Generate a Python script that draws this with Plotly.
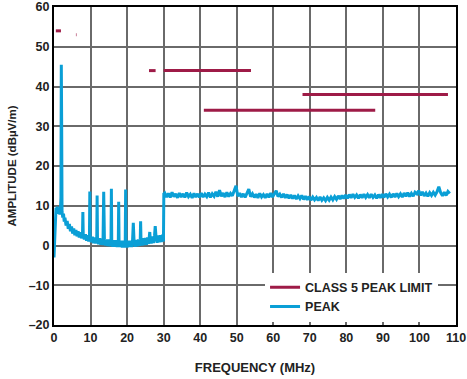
import plotly.graph_objects as go

# CLASS 5 PEAK LIMIT segments (MHz start, MHz end, dBuV/m level)
limit_start = [0.5, 6.0, 26.0, 30.0, 41.0, 68.0]
limit_end = [1.9, 6.15, 27.8, 53.9, 87.9, 107.8]
limit_level = [54.0, 53.0, 44.0, 44.0, 34.0, 38.0]

# PEAK trace, low band (0-30 MHz)
peak_freq_low = [0.0, 0.1, 0.25, 0.4, 0.55, 0.7, 0.85, 1.0, 1.15, 1.3, 1.45, 1.6, 1.75, 1.9, 2.0, 2.1, 2.2,
                 2.4, 2.6, 2.8, 3.0, 3.3, 3.6, 3.9, 4.2, 4.5, 4.8, 5.1, 5.4, 5.7, 6.0, 6.3, 6.6, 6.9, 7.2,
                 7.5, 7.8, 7.9, 8.0, 8.3, 8.6, 8.9, 9.2, 9.5, 9.7, 9.8, 9.9, 10.2, 10.5, 10.8, 11.1, 11.4,
                 11.7, 11.8, 11.9, 12.2, 12.5, 12.8, 13.1, 13.4, 13.6, 13.8, 14.1, 14.4, 14.7, 15.0, 15.3,
                 15.6, 15.7, 15.8, 16.1, 16.4, 16.7, 17.0, 17.3, 17.6, 17.7, 17.8, 18.1, 18.4, 18.7, 19.0,
                 19.3, 19.5, 19.6, 19.7, 20.0, 20.3, 20.6, 20.9, 21.2, 21.5, 21.7, 21.9, 22.2, 22.5, 22.8,
                 23.1, 23.4, 23.6, 23.7, 23.8, 24.1, 24.4, 24.7, 25.0, 25.3, 25.6, 25.9, 26.1, 26.2, 26.3,
                 26.6, 26.9, 27.2, 27.5, 27.7, 27.9, 28.2, 28.5, 28.8, 29.1, 29.4, 29.7, 29.95, 30.05]
peak_amp_low = [-3.0, -1.0, 4.0, 8.0, 9.5, 8.2, 9.8, 8.5, 9.6, 8.0, 9.0, 7.8, 8.8, 12.0, 45.5, 30.0, 8.5,
                7.0, 8.0, 6.0, 7.0, 5.0, 6.2, 4.2, 5.4, 3.6, 4.8, 3.0, 4.3, 2.6, 3.9, 2.3, 3.6, 2.0, 3.3,
                1.8, 3.0, 8.4, 2.8, 1.5, 2.8, 1.2, 2.6, 1.0, 2.4, 13.6, 2.2, 0.8, 2.2, 0.6, 2.0, 0.5,
                1.9, 12.6, 1.8, 0.3, 1.8, 0.2, 1.7, 0.1, 13.5, 1.6, 0.0, 1.5, -0.1, 1.5, -0.2,
                1.4, 14.3, 1.4, -0.3, 1.3, -0.3, 1.3, -0.4, 1.2, 11.0, 1.2, -0.4, 1.2, -0.5, 1.2,
                -0.5, 1.1, 14.1, 1.1, -0.5, 1.2, -0.4, 1.2, -0.4, 1.3, 5.7, 1.3, -0.3, 1.4, -0.2,
                1.5, -0.1, 1.6, 6.1, 1.6, 0.0, 1.8, 0.1, 1.9, 0.2, 2.0, 0.4, 2.1, 3.4, 2.1,
                0.5, 2.3, 0.6, 2.4, 4.9, 2.4, 0.7, 2.5, 0.8, 2.6, 0.9, 2.7, 1.0, 13.0]

# PEAK trace, high band: samples every 0.5 MHz starting at 30.3 MHz
peak_high_start = 30.3
peak_high_step = 0.5
peak_amp_high = [
    13.2, 12.2, 13.1, 12.1, 13.4, 12.3, 13.0, 12.0, 13.2, 12.2,
    13.0, 12.1, 13.3, 12.3, 12.9, 12.0, 13.1, 12.2, 13.0, 12.1,
    13.2, 12.2, 12.9, 12.3, 13.3, 12.1, 13.0, 12.4, 13.5, 12.3,
    13.9, 12.4, 13.2, 12.2, 13.4, 12.3, 13.1, 12.5, 13.6, 15.0,
    12.4, 13.2, 12.2, 13.0, 12.1, 13.3, 14.2, 12.3, 13.0, 12.1,
    12.9, 12.0, 13.1, 12.2, 12.8, 12.0, 13.0, 12.1, 13.2, 12.2,
    13.1, 13.8, 12.3, 12.9, 12.1, 13.0, 12.0, 12.8, 11.9, 12.7,
    11.8, 12.6, 11.7, 12.5, 11.8, 12.6, 11.6, 12.4, 11.5, 12.3,
    11.4, 12.2, 11.5, 12.1, 11.3, 12.2, 11.4, 12.0, 11.3, 12.1,
    11.4, 12.2, 11.5, 12.3, 11.6, 12.5, 11.7, 12.6, 11.8, 12.7,
    11.9, 12.8, 12.0, 12.9, 12.1, 12.7, 11.9, 12.8, 12.0, 12.9,
    12.1, 12.8, 12.0, 12.9, 12.1, 12.7, 11.9, 12.8, 12.0, 12.9,
    12.1, 13.0, 12.2, 12.9, 12.1, 13.0, 12.2, 13.1, 12.3, 13.0,
    12.2, 13.2, 12.4, 13.3, 12.3, 13.1, 12.4, 13.4, 13.0, 13.8,
    12.6, 13.5, 12.5, 13.2, 12.4, 13.3, 12.6, 13.4, 12.7, 13.5,
    14.8, 13.3, 12.5, 13.4, 12.6, 13.6, 13.1]

x_ticks = [0, 10, 20, 30, 40, 50, 60, 70, 80, 90, 100, 110]
y_ticks = [-20, -10, 0, 10, 20, 30, 40, 50, 60]
y_ticktext = ["–20", "–10", "0", "10", "20", "30", "40", "50", "60"]

MAROON = "#9E1B47"
BLUE = "#0A9FD6"
FONT = "Liberation Sans"

peak_freq_high = [peak_high_start + peak_high_step * i for i in range(len(peak_amp_high))]
peak_x = peak_freq_low + peak_freq_high
peak_y = peak_amp_low + peak_amp_high

lim_x, lim_y = [], []
for s, e, v in zip(limit_start, limit_end, limit_level):
    lim_x += [s, e, None]
    lim_y += [v, v, None]

fig = go.Figure()
fig.add_trace(go.Scatter(x=peak_x, y=peak_y, mode="lines", name="<b>PEAK</b>",
                         line=dict(color=BLUE, width=3), legendrank=2))
fig.add_trace(go.Scatter(x=lim_x, y=lim_y, mode="lines", name="<b>CLASS 5 PEAK LIMIT</b>",
                         line=dict(color=MAROON, width=3), legendrank=1))

axis_common = dict(showgrid=True, gridcolor="#6a6a6a", gridwidth=1.5, zeroline=False,
                   showline=True, linecolor="black", linewidth=2, mirror=True, ticks="",
                   automargin=False,
                   tickfont=dict(family=FONT, size=12.5, color="#222"))

fig.update_layout(
    width=467, height=379,
    margin=dict(l=54, r=11, t=7, b=54),
    paper_bgcolor="white", plot_bgcolor="white",
    font=dict(family=FONT, color="#222"),
    xaxis=dict(range=[0, 110], tickvals=x_ticks, ticktext=[f"<b>{t}</b>" for t in x_ticks], **axis_common,
               title=dict(text="<b>FREQUENCY (MHz)</b>", font=dict(family=FONT, size=13), standoff=19)),
    yaxis=dict(range=[-20, 60], tickvals=y_ticks, ticktext=[f"<b>{t}</b>" for t in y_ticktext], **axis_common,
               title=dict(text="<b>AMPLITUDE (dBµV/m)</b>", font=dict(family=FONT, size=11.5), standoff=10)),
    legend=dict(x=0.525, y=0.165, xanchor="left", yanchor="top", bgcolor="white",
                font=dict(family=FONT, size=12.5, color="#222"), tracegroupgap=0, itemwidth=30,
                traceorder="normal"),
    showlegend=True,
)

fig.write_html("out.html")
